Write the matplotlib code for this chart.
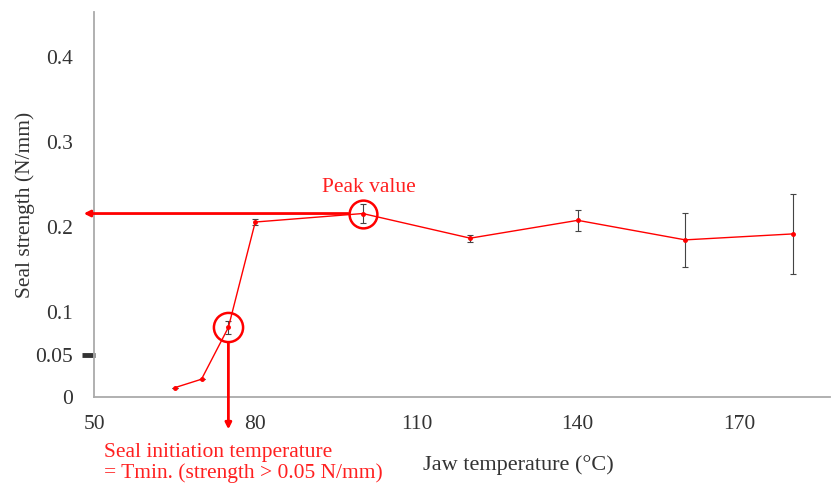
import matplotlib
matplotlib.use('Agg')
from matplotlib import pyplot as plt
from matplotlib.transforms import ScaledTranslation

# data
jaw_temp = [65, 70, 75, 80, 100, 120, 140, 160, 180]
seal_strength = [0.011, 0.021, 0.082, 0.206, 0.216, 0.187, 0.208, 0.185, 0.192]
strength_err = [0.0, 0.0, 0.008, 0.004, 0.011, 0.004, 0.012, 0.032, 0.047]

x_ticks = [50, 80, 110, 140, 170]
y_ticks = [0, 0.05, 0.1, 0.2, 0.3, 0.4]
y_ticklabels = ['0', '0.05', '0.1', '0.2', '0.3', '0.4']

t_min = 75
peak_temp = 100

plt.rcParams['font.family'] = ['Liberation Serif', 'DejaVu Serif']

fig = plt.figure(figsize=(8.32, 4.86), dpi=100)
ax = fig.add_axes([0.113, 0.183, 0.885, 0.792])

ax.errorbar(jaw_temp, seal_strength, yerr=strength_err, color='red', lw=1,
            marker='o', ms=2.5, ecolor='#444444', elinewidth=0.8, capsize=2,
            capthick=0.8, zorder=3)

ax.set_xlim(50, 187)
ax.set_ylim(0, 0.453)
ax.set_xticks(x_ticks)
ax.set_yticks(y_ticks)
ax.set_yticklabels(y_ticklabels)
ax.tick_params(axis='both', length=0, labelsize=15.5, colors='#333333')
ax.tick_params(axis='x', pad=13)
ax.tick_params(axis='y', pad=15)

# thick black mark at 0.05
tick05 = ax.yaxis.get_major_ticks()[1]
tick05.tick1line.set_marker(0)
tick05.tick1line.set_markersize(9.5)
tick05.tick1line.set_markeredgewidth(3.5)
tick05.tick1line.set_color('black')
tick05.tick1line.set_xdata([0])
tick05.tick1line.set_ydata([0.05])
tick05.tick1line.set_transform(ax.get_yaxis_transform(which='tick1') +
                               ScaledTranslation(0.6 / 72, 0, fig.dpi_scale_trans))

for side in ['top', 'right']:
    ax.spines[side].set_visible(False)
for side in ['left', 'bottom']:
    ax.spines[side].set_color('#aaaaaa')
    ax.spines[side].set_linewidth(1.3)

ax.set_xlabel('Jaw temperature (\u00b0C)', fontsize=16, color='#333333')
ax.xaxis.set_label_coords(0.577, -0.15)
ax.set_ylabel('Seal strength (N/mm)', fontsize=15.5, color='#333333')
ax.yaxis.set_label_coords(-0.08, 0.5)

# circles around the marked points
t_min_val = seal_strength[jaw_temp.index(t_min)]
peak_val = seal_strength[jaw_temp.index(peak_temp)]
ax.plot([t_min], [t_min_val], marker='o', ms=21, mfc='none', mec='red', mew=1.8, zorder=4)
ax.plot([peak_temp], [peak_val], marker='o', ms=20, mfc='none', mec='red', mew=1.8, zorder=4)

# arrows
arrow = dict(arrowstyle='-|>', color='red', lw=2, mutation_scale=9, shrinkA=0, shrinkB=0)
ax.annotate('', xy=(-0.014, peak_val), xycoords=('axes fraction', 'data'),
            xytext=(peak_temp - 2.7, peak_val), textcoords='data',
            arrowprops=arrow, annotation_clip=False)
ax.annotate('', xy=(t_min, -0.038), xycoords='data',
            xytext=(t_min, t_min_val - 0.018), textcoords='data',
            arrowprops=arrow, annotation_clip=False)

ax.text(peak_temp + 1.2, peak_val + 0.031, 'Peak value', color='#ff2020', fontsize=15.5,
        ha='center', va='center')
ax.text(51.8, -0.054, 'Seal initiation temperature\n= Tmin. (strength > 0.05 N/mm)',
        color='#ff2020', fontsize=15.5, ha='left', va='top', linespacing=1.12,
        clip_on=False)

fig.savefig('out.png', dpi=100)
